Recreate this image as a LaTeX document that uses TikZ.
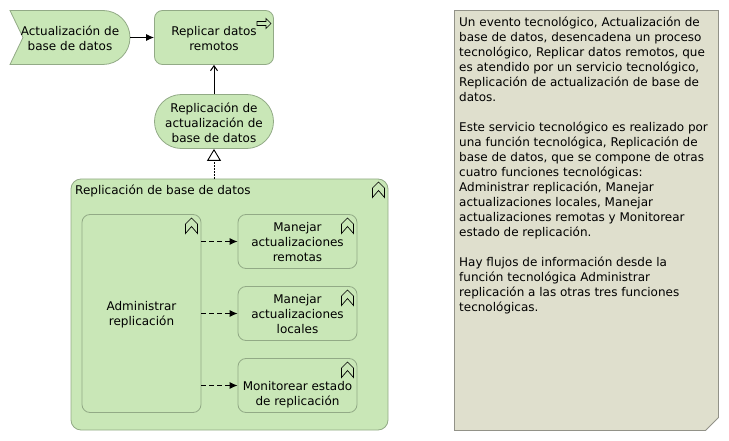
\documentclass[tikz,border=0pt]{standalone}
\usepackage{fontspec}
\setmainfont{DejaVu Sans}
\usetikzlibrary{arrows.meta}
\definecolor{techfill}{RGB}{201,231,183}
\definecolor{techline}{RGB}{146,170,134}
\definecolor{notefill}{RGB}{223,223,205}
\definecolor{noteline}{RGB}{146,146,136}
\tikzset{
  x=1pt,y=-1pt,
  txt/.style={font=\fontsize{12}{15}\selectfont,align=center,text=black,inner sep=0pt},
  tx/.style={label={[txt,yshift=-1pt]center:#1}},
  box/.style={txt,draw=techline,fill=techfill,line width=0.8pt,rounded corners=8pt,minimum width=119pt,minimum height=54pt},
  big/.style={box,rounded corners=10pt},
  stadium/.style={box,rounded corners=26.9pt},
  ghost/.style={txt,minimum width=120pt,minimum height=54pt},
  outline/.style={draw=techline,fill=techfill,line width=0.8pt},
  icon/.style={draw=black,line width=0.7pt,line join=miter},
  trig/.style={draw=black,line width=1pt,-{Latex[length=8pt,width=7pt]}},
  serve/.style={draw=black,line width=1pt,-{Straight Barb[length=5pt,width=7pt]}},
  flow/.style={draw=black,line width=1pt,dash pattern=on 5pt off 3pt,-{Latex[length=8pt,width=7pt]}},
  real/.style={draw=black,line width=0.9pt,dash pattern=on 1.5pt off 1.5pt,-{Triangle[open,fill=white,length=12pt,width=14pt]}},
}
\newcommand{\chev}[2]{%
  \path[icon] (#1,#2+3.5) -- (#1+6,#2-2.5) -- (#1+12,#2+3.5) -- (#1+12,#2+13) -- (#1+6,#2+6) -- (#1,#2+13) -- cycle;}
\begin{document}
\begin{tikzpicture}
\useasboundingbox (0,0) rectangle (729,441);
% business event
\path[outline] (10,10.5) -- (103,10.5) arc[start angle=90,end angle=-90,radius=27pt] -- (10,64.5) -- (23,37.5) -- cycle;
\node[ghost] (ev) at (70,38.5) {Actualización de\\base de datos};
% process
\node[box,tx={Replicar datos\\remotos}] (pr) at (214,37.5) {};
\path[icon] (257,21.5) -- (266,21.5) -- (266,18.5) -- (271,23.5) -- (266,28.5) -- (266,25.5) -- (257,25.5) -- cycle;
% service
\node[stadium,tx={Replicación de\\actualización de\\base de datos}] (sv) at (214,121.5) {};
% group
\node[big,minimum width=317pt,minimum height=251pt] (gr) at (229.5,304.5) {};
\node[txt,anchor=west] (grl) at (75,190.5) {Replicación de base de datos};
\chev{372.5}{184.5}
% administrar
\node[box,minimum height=198pt,tx={Administrar\\replicación}] (ad) at (141.5,313.5) {};
\chev{185.5}{220.5}
% functions
\node[box,tx={Manejar\\actualizaciones\\remotas}] (m1) at (297.5,241.5) {};
\chev{341.5}{220.5}
\node[box,tx={Manejar\\actualizaciones\\locales}] (m2) at (297.5,313.5) {};
\chev{341.5}{292.5}
\node[box,label={[txt,yshift=-9pt]center:Monitorear estado\\de replicación}] (m3) at (297.5,385.5) {};
\chev{341.5}{364.5}
% connectors
\draw[trig] (ev.east |- pr.west) -- (pr.west);
\draw[serve] (sv.north) -- (pr.south);
\draw[real] (gr.north -| sv.south) -- (sv.south);
\draw[flow] (ad.east |- m1.west) -- (m1.west);
\draw[flow] (ad.east |- m2.west) -- (m2.west);
\draw[flow] (ad.east |- m3.west) -- (m3.west);
% note
\path[draw=noteline,fill=notefill,line width=0.8pt] (454.5,10.5) -- (718.5,10.5) -- (718.5,417.5) -- (705.5,430.5) -- (454.5,430.5) -- cycle;
\node[txt,align=left,anchor=north west] (nt) at (459,17) {Un evento tecnológico, Actualización de\\
base de datos, desencadena un proceso\\
tecnológico, Replicar datos remotos, que\\
es atendido por un servicio tecnológico,\\
Replicación de actualización de base de\\
datos.\\
\\
Este servicio tecnológico es realizado por\\
una función tecnológica, Replicación de\\
base de datos, que se compone de otras\\
cuatro funciones tecnológicas:\\
Administrar replicación, Manejar\\
actualizaciones locales, Manejar\\
actualizaciones remotas y Monitorear\\
estado de replicación.\\
\\
Hay flujos de información desde la\\
función tecnológica Administrar\\
replicación a las otras tres funciones\\
tecnológicas.};
\end{tikzpicture}
\end{document}
